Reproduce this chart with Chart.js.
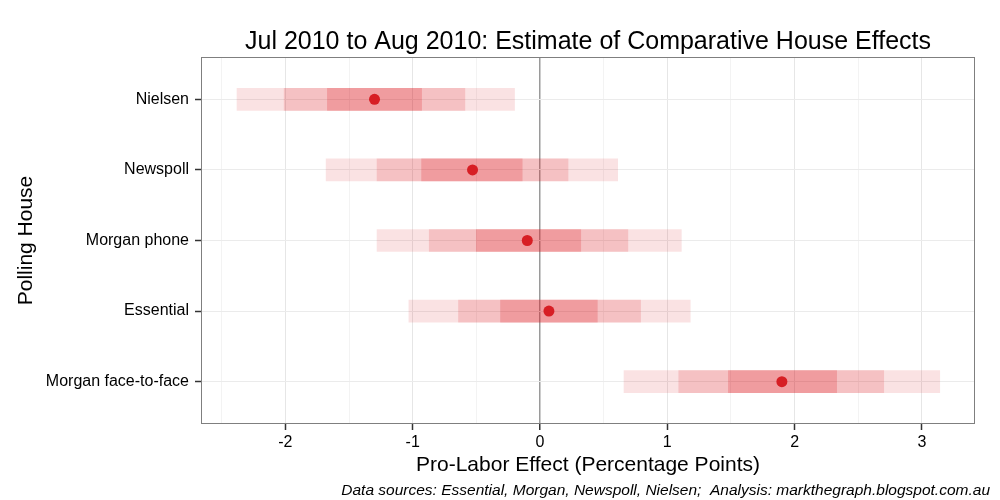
<!DOCTYPE html>
<html lang="en">
<head>
    <meta charset="UTF-8">
    <script src="https://cdn.jsdelivr.net/npm/chart.js"></script>
    <title>House Effects</title>
    <style>
        body { margin: 0; background: #fff; }
        .chart-box { width: 1000px; height: 500px; }
    </style>
</head>
<body>
    <div class="chart-box">
        <canvas id="houseChart"></canvas>
    </div>
    <script>
        // values
        var houses = ['Nielsen', 'Newspoll', 'Morgan phone', 'Essential', 'Morgan face-to-face'];
        var median = [-1.30, -0.53, -0.10, 0.07, 1.90];
        var lo95 = [-2.38, -1.68, -1.28, -1.03, 0.66];
        var hi95 = [-0.20, 0.61, 1.11, 1.18, 3.14];
        var lo80 = [-2.01, -1.28, -0.87, -0.64, 1.09];
        var hi80 = [-0.59, 0.22, 0.69, 0.79, 2.70];
        var lo50 = [-1.67, -0.93, -0.50, -0.31, 1.48];
        var hi50 = [-0.93, -0.14, 0.32, 0.45, 2.33];
        var xTicks = [-2.5, -2, -1.5, -1, -0.5, 0, 0.5, 1, 1.5, 2, 2.5, 3];

        var titleText = 'Jul 2010 to Aug 2010: Estimate of Comparative House Effects';
        var captionText = 'Data sources: Essential, Morgan, Newspoll, Nielsen;  Analysis: markthegraph.blogspot.com.au';

        function band(lo, hi) {
            var out = [];
            for (var i = 0; i < houses.length; i++) {
                out.push({ x: [lo[i], hi[i]], y: i });
            }
            return out;
        }

        var points = [];
        for (var i = 0; i < houses.length; i++) {
            points.push({ x: median[i], y: i });
        }

        // title, caption and panel border
        var extras = {
            id: 'extras',
            afterDraw: function (chart) {
                var ctx = chart.ctx;
                var a = chart.chartArea;
                ctx.save();
                ctx.strokeStyle = '#7f7f7f';
                ctx.lineWidth = 1;
                ctx.strokeRect(a.left + 0.5, a.top + 0.5, a.right - a.left - 1, a.bottom - a.top - 1);

                ctx.fillStyle = '#000';
                ctx.font = '25px "Liberation Sans", Arial, sans-serif';
                ctx.textAlign = 'center';
                ctx.textBaseline = 'middle';
                ctx.fillText(titleText, (a.left + a.right) / 2, 42);

                ctx.font = 'italic 15.5px "Liberation Sans", Arial, sans-serif';
                ctx.textAlign = 'right';
                ctx.fillText(captionText, 990, 491);
                ctx.restore();
            }
        };

        var fontFamily = '"Liberation Sans", Arial, sans-serif';

        var config = {
            type: 'bar',
            data: {
                datasets: [
                    {
                        label: '95%',
                        data: band(lo95, hi95),
                        backgroundColor: 'rgba(220, 30, 38, 0.13)',
                        barThickness: 22,
                        grouped: false,
                        order: 3
                    },
                    {
                        label: '80%',
                        data: band(lo80, hi80),
                        backgroundColor: 'rgba(220, 30, 38, 0.17)',
                        barThickness: 22,
                        grouped: false,
                        order: 2
                    },
                    {
                        label: '50%',
                        data: band(lo50, hi50),
                        backgroundColor: 'rgba(220, 30, 38, 0.23)',
                        barThickness: 22,
                        grouped: false,
                        order: 1
                    },
                    {
                        type: 'scatter',
                        label: 'median',
                        data: points,
                        backgroundColor: '#d71e24',
                        borderWidth: 0,
                        pointRadius: 5.5,
                        order: 0
                    }
                ]
            },
            options: {
                indexAxis: 'y',
                responsive: true,
                maintainAspectRatio: false,
                animation: false,
                layout: { padding: { left: 0, right: 25, top: 57, bottom: 0 } },
                plugins: {
                    legend: { display: false },
                    tooltip: { enabled: false }
                },
                scales: {
                    x: {
                        type: 'linear',
                        min: -2.663,
                        max: 3.417,
                        afterBuildTicks: function (scale) {
                            scale.ticks = xTicks.map(function (v) { return { value: v }; });
                        },
                        afterFit: function (scale) { scale.height = 76; },
                        border: { display: false },
                        grid: {
                            color: function (c) {
                                if (c.tick && c.tick.value === 0) return '#9a9a9a';
                                return Number.isInteger(c.tick && c.tick.value) ? '#e6e6e6' : '#f3f3f3';
                            },
                            lineWidth: function (c) {
                                return (c.tick && c.tick.value === 0) ? 1.5 : 1;
                            },
                            tickColor: function (c) {
                                return Number.isInteger(c.tick && c.tick.value) ? '#333' : 'rgba(0,0,0,0)';
                            },
                            tickWidth: 1.5,
                            tickLength: 6
                        },
                        ticks: {
                            autoSkip: false,
                            maxRotation: 0,
                            padding: 3,
                            color: '#000',
                            font: { family: fontFamily, size: 16 },
                            callback: function (v) {
                                return Number.isInteger(v) ? String(v) : '';
                            }
                        },
                        title: {
                            display: true,
                            text: 'Pro-Labor Effect (Percentage Points)',
                            color: '#000',
                            font: { family: fontFamily, size: 21 },
                            padding: { bottom: 22 }
                        }
                    },
                    y: {
                        type: 'linear',
                        min: -0.6,
                        max: 4.6,
                        reverse: true,
                        offset: false,
                        afterBuildTicks: function (scale) {
                            scale.ticks = houses.map(function (h, i) { return { value: i }; });
                        },
                        afterFit: function (scale) { scale.width = 201; },
                        border: { display: false },
                        grid: {
                            offset: false,
                            color: '#ebebeb',
                            tickColor: '#333',
                            tickWidth: 1.5,
                            tickLength: 6
                        },
                        ticks: {
                            autoSkip: false,
                            padding: 6,
                            color: '#000',
                            font: { family: fontFamily, size: 16 },
                            callback: function (v) { return houses[v]; }
                        },
                        title: {
                            display: true,
                            text: 'Polling House',
                            color: '#000',
                            font: { family: fontFamily, size: 21 },
                            padding: { top: 14 }
                        }
                    }
                }
            },
            plugins: [extras]
        };

        var myChart = new Chart(document.getElementById('houseChart'), config);
    </script>
</body>
</html>
